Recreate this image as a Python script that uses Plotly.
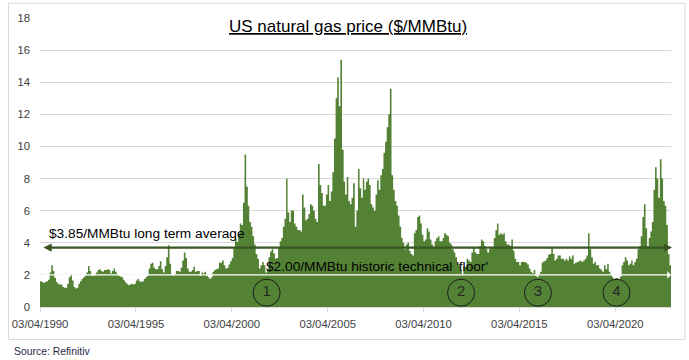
import plotly.graph_objects as go
import pandas as pd

# Monthly US natural gas (front-month) price, $/MMBtu
p1990 = [1.60, 1.55, 1.50, 1.55, 1.60, 1.70, 2.15, 2.60, 2.25]  # Apr-Dec
p1991 = [1.80, 1.55, 1.45, 1.40, 1.40, 1.25, 1.20, 1.20, 1.45, 1.85, 2.05, 1.65]
p1992 = [1.25, 1.15, 1.20, 1.45, 1.60, 1.75, 1.85, 1.95, 2.15, 2.55, 2.25, 1.95]
p1993 = [1.95, 2.00, 2.15, 2.30, 2.35, 2.25, 2.20, 2.30, 2.30, 2.35, 2.30, 2.10]
p1994 = [2.25, 2.40, 2.20, 2.05, 1.95, 1.90, 1.85, 1.70, 1.55, 1.45, 1.35, 1.40]
p1995 = [1.45, 1.40, 1.45, 1.65, 1.75, 1.60, 1.55, 1.60, 1.75, 1.85, 1.95, 2.40]
p1996 = [2.70, 2.75, 2.45, 2.35, 2.35, 2.55, 2.85, 2.35, 2.15, 2.55, 3.10, 3.85]
p1997 = [2.70, 2.00, 1.95, 2.05, 2.25, 2.25, 2.20, 2.45, 2.90, 3.40, 3.05, 2.40]
p1998 = [2.20, 2.20, 2.30, 2.50, 2.20, 2.25, 2.25, 1.95, 2.15, 2.10, 2.20, 1.95]
p1999 = [1.85, 1.75, 1.85, 2.20, 2.30, 2.35, 2.40, 2.75, 2.75, 2.90, 2.60, 2.40]
p2000 = [2.45, 2.65, 2.85, 3.05, 3.65, 4.30, 4.05, 4.55, 5.20, 5.10, 6.50, 9.50]
p2001 = [7.50, 6.30, 5.30, 5.00, 4.40, 3.90, 3.30, 3.00, 2.40, 2.60, 2.80, 2.60]
p2002 = [2.15, 2.30, 3.10, 3.45, 3.60, 3.35, 3.00, 3.05, 3.70, 4.10, 4.30, 5.00]
p2003 = [5.50, 8.00, 5.90, 5.30, 6.00, 6.00, 5.20, 5.00, 4.80, 4.80, 4.70, 7.00]
p2004 = [6.20, 5.40, 5.50, 5.80, 6.40, 6.30, 6.00, 5.50, 5.30, 8.90, 7.60, 7.10]
p2005 = [6.30, 6.30, 7.00, 7.60, 6.60, 7.20, 8.40, 10.50, 13.00, 14.30, 12.50, 15.40]
p2006 = [9.80, 7.80, 7.00, 8.10, 6.60, 6.40, 6.80, 7.70, 5.00, 6.00, 8.60, 7.40]
p2007 = [6.80, 8.00, 7.30, 7.80, 8.00, 7.60, 6.40, 6.20, 6.00, 7.00, 7.90, 7.30]
p2008 = [8.20, 8.60, 9.60, 10.30, 11.20, 12.00, 13.60, 8.20, 7.30, 6.60, 6.30, 5.70]
p2009 = [5.00, 4.30, 4.00, 3.60, 3.90, 4.00, 3.50, 3.30, 3.20, 4.60, 4.80, 5.60]
p2010 = [5.70, 5.20, 4.50, 4.10, 4.20, 4.90, 4.70, 4.20, 3.90, 3.70, 4.10, 4.30]
p2011 = [4.40, 4.10, 4.10, 4.30, 4.60, 4.50, 4.40, 4.00, 3.90, 3.60, 3.40, 3.10]
p2012 = [2.70, 2.60, 2.30, 2.00, 2.50, 2.50, 3.00, 2.90, 2.80, 3.40, 3.70, 3.40]
p2013 = [3.30, 3.30, 3.80, 4.20, 4.10, 3.80, 3.60, 3.40, 3.60, 3.70, 3.70, 4.30]
p2014 = [4.80, 5.20, 4.50, 4.60, 4.50, 4.60, 4.10, 3.90, 3.90, 3.80, 4.20, 3.50]
p2015 = [3.00, 2.80, 2.80, 2.60, 2.80, 2.80, 2.80, 2.75, 2.65, 2.40, 2.20, 2.10]
p2016 = [2.30, 1.95, 1.85, 2.05, 2.20, 2.75, 2.85, 2.90, 3.05, 3.25, 3.30, 3.70]
p2017 = [3.30, 2.90, 3.00, 3.20, 3.20, 3.00, 3.00, 2.90, 3.00, 2.90, 3.15, 3.00]
p2018 = [3.20, 2.70, 2.75, 2.80, 2.85, 2.90, 2.80, 2.90, 3.00, 3.20, 4.60, 3.60]
p2019 = [3.10, 2.70, 2.80, 2.60, 2.60, 2.40, 2.30, 2.20, 2.60, 2.35, 2.70, 2.20]
p2020 = [2.00, 1.85, 1.75, 1.80, 1.80, 1.70, 1.90, 2.60, 2.80, 3.10, 2.90, 2.60]
p2021 = [2.70, 2.90, 2.60, 2.80, 3.00, 3.60, 3.80, 4.40, 5.60, 6.40, 4.90, 3.80]
p2022 = [4.30, 4.70, 5.30, 7.30, 8.70, 8.00, 6.80, 9.20, 8.00, 6.60, 6.30, 5.10]
p2023 = [3.30, 2.60]  # Jan-Feb

prices = (p1990 + p1991 + p1992 + p1993 + p1994 + p1995 + p1996 + p1997 + p1998
          + p1999 + p2000 + p2001 + p2002 + p2003 + p2004 + p2005 + p2006 + p2007
          + p2008 + p2009 + p2010 + p2011 + p2012 + p2013 + p2014 + p2015 + p2016
          + p2017 + p2018 + p2019 + p2020 + p2021 + p2022 + p2023)

first_month = "1990-04-01"
tick_dates = ["1990-04-03", "1995-04-03", "2000-04-03", "2005-04-03",
              "2010-04-03", "2015-04-03", "2020-04-03"]
tick_labels = ["03/04/1990", "03/04/1995", "03/04/2000", "03/04/2005",
               "03/04/2010", "03/04/2015", "03/04/2020"]
y_ticks = [0, 2, 4, 6, 8, 10, 12, 14, 16, 18]

long_term_avg = 3.70      # drawn level of the $3.85 average arrow
floor_level = 2.00
low_dates = ["2002-01-26", "2012-03-18", "2016-03-22", "2020-04-26"]
low_labels = ["1", "2", "3", "4"]
low_marker_y = [0.89, 0.89, 0.89, 0.89]

months = pd.date_range(first_month, periods=len(prices), freq="MS")
end_date = months[-1] + pd.offsets.MonthBegin(1)
step_x = list(months) + [end_date]
step_y = prices + [prices[-1]]

GREEN = "#548235"
DARK = "#385723"
FONT = "Liberation Sans"

fig = go.Figure()
# monthly columns drawn as a step-shaped filled area (no seams between columns)
fig.add_trace(go.Scatter(
    x=step_x, y=step_y, mode="lines", line=dict(shape="hv", width=0, color=GREEN),
    fill="tozeroy", fillcolor=GREEN, hoverinfo="x+y", showlegend=False,
))
fig.add_trace(go.Scatter(
    x=low_dates, y=low_marker_y, mode="markers+text", text=low_labels,
    textposition="middle center",
    textfont=dict(family=FONT, size=15, color="#262626"),
    marker=dict(symbol="circle-open", size=27, color="#1a1a1a",
                line=dict(width=1, color="#1a1a1a")),
    showlegend=False, hoverinfo="skip", cliponaxis=False,
))

annotations = [
    dict(text="<u>US natural gas price ($/MMBtu)</u>", xref="paper", yref="paper",
         x=0.4874, y=0.972, xanchor="center", yanchor="middle", showarrow=False,
         font=dict(family=FONT, size=17, color="#000000")),
    # long-term average double arrow
    dict(text="", xref="x domain", yref="y", x=1.0016, y=long_term_avg,
         axref="x domain", ayref="y", ax=0.003, ay=long_term_avg,
         showarrow=True, arrowside="end+start", arrowhead=2, startarrowhead=2,
         arrowsize=0.72, startarrowsize=0.72, arrowwidth=2.3, arrowcolor=DARK,
         standoff=0, startstandoff=0),
    # floor white arrow
    dict(text="", xref="x domain", yref="y", x=1.0, y=floor_level,
         axref="x domain", ayref="y", ax=0.0, ay=floor_level,
         showarrow=True, arrowside="end", arrowhead=1, arrowsize=0.9,
         arrowwidth=1.4, arrowcolor="#ffffff", standoff=0, startstandoff=0),
    dict(text="$3.85/MMBtu long term average", xref="x domain", yref="y",
         x=0.011, y=4.55, xanchor="left", yanchor="middle", showarrow=False,
         font=dict(family=FONT, size=13.7, color="#000000")),
    dict(text="$2.00/MMBtu historic technical 'floor'", xref="x domain", yref="y",
         x=0.355, y=2.55, xanchor="left", yanchor="middle", showarrow=False,
         font=dict(family=FONT, size=13.7, color="#000000")),
    dict(text="Source: Refinitiv", xref="paper", yref="paper",
         x=-0.044, y=-0.154, xanchor="left", yanchor="middle", showarrow=False,
         font=dict(family=FONT, size=10.4, color="#1f2a44")),
]

fig.update_layout(
    width=689, height=360,
    margin=dict(l=35, r=18, t=18, b=53),
    paper_bgcolor="#ffffff", plot_bgcolor="#ffffff",
    showlegend=False,
    annotations=annotations,
    shapes=[dict(type="rect", xref="paper", yref="paper",
                 x0=-0.0498, x1=1.0220, y0=-0.1125, y1=1.0512,
                 line=dict(color="#d9d9d9", width=1), fillcolor="rgba(0,0,0,0)",
                 layer="below")],
    font=dict(family=FONT, color="#595959"),
)
fig.update_xaxes(
    type="date", range=[first_month, end_date],
    tickvals=tick_dates, ticktext=tick_labels,
    ticks="outside", ticklen=4, tickcolor="#d9d9d9",
    showline=True, linecolor="#d9d9d9", linewidth=1,
    showgrid=False, zeroline=False,
    tickfont=dict(family=FONT, size=11.3, color="#404040"),
    ticklabelstandoff=2,
)
fig.update_yaxes(
    range=[0, 18], tickvals=y_ticks,
    showgrid=True, gridcolor="#d9d9d9", gridwidth=1,
    zeroline=False, showline=False, ticks="",
    tickfont=dict(family=FONT, size=11.3, color="#404040"),
    ticklabelstandoff=9,
)

fig.write_html("out.html", config={"displayModeBar": False},
               post_script="document.body.style.margin='0px';document.body.style.padding='0px';")
